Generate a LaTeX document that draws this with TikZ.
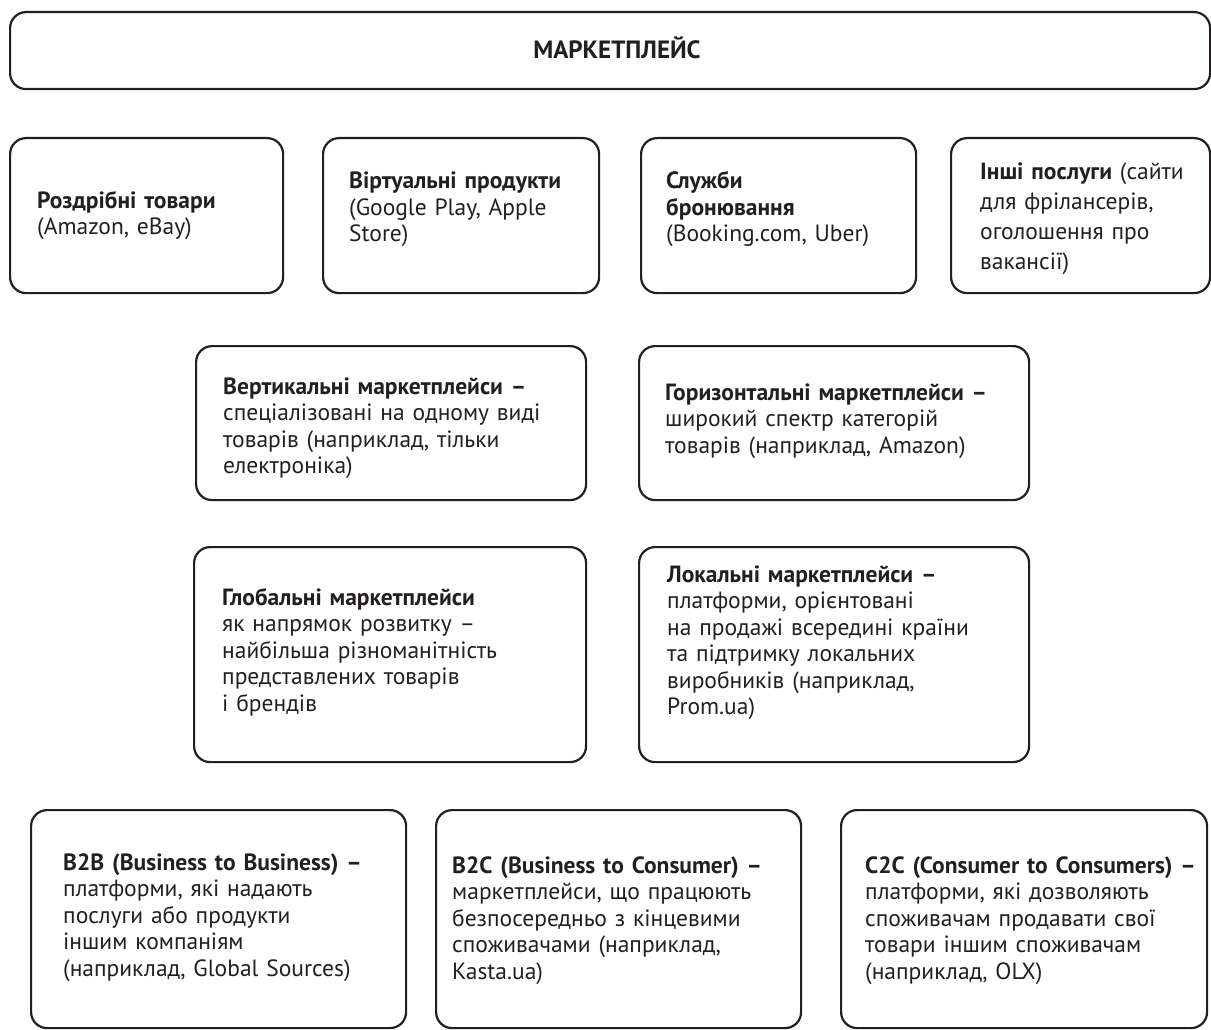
\documentclass[tikz,border=0pt]{standalone}
\usepackage{fontspec}
\setmainfont{PT Sans}
\definecolor{ink}{HTML}{231F20}
\begin{document}
\begin{tikzpicture}[x=1pt,y=-1pt,
  box/.style={draw=ink, line width=2.2pt, rounded corners=16pt, inner sep=0pt, anchor=north west},
  txt/.style={text=ink, anchor=base west, align=left, text width=420pt, inner sep=0pt, font=\fontsize{23.5}{26.5}\selectfont},
  ttl/.style={text=ink, inner sep=0pt, font=\bfseries\fontsize{25}{28}\selectfont}]
\useasboundingbox (0,0) rectangle (1211,1030);
% boxes
\node[box, minimum width=1200pt, minimum height=77pt] (top) at (9,11) {};
\node[box, minimum width=273pt, minimum height=155pt] (b1a) at (9,137) {};
\node[box, minimum width=276pt, minimum height=155pt] (b1b) at (322,137) {};
\node[box, minimum width=275pt, minimum height=155pt] (b1c) at (640,137) {};
\node[box, minimum width=259pt, minimum height=155pt] (b1d) at (950,137) {};
\node[box, minimum width=390pt, minimum height=154pt] (b2a) at (195,345) {};
\node[box, minimum width=390pt, minimum height=154pt] (b2b) at (638,345) {};
\node[box, minimum width=392pt, minimum height=215pt] (b3a) at (193,546) {};
\node[box, minimum width=390pt, minimum height=215pt] (b3b) at (638,546) {};
\node[box, minimum width=375pt, minimum height=218pt] (b4a) at (30,809) {};
\node[box, minimum width=365pt, minimum height=218pt] (b4b) at (435,809) {};
\node[box, minimum width=366pt, minimum height=218pt] (b4c) at (840,809) {};
% texts
\node[ttl] (title) at (617,48) {МАРКЕТПЛЕЙС};
\node[txt] (t1a) at (37,208) {\textbf{Роздрібні товари}\\(Amazon, eBay)};
\node[txt] (t1b) at (349,189) {\textbf{Віртуальні продукти}\\(Google Play, Apple\\Store)};
\node[txt] (t1c) at (666,189) {\textbf{Служби}\\\textbf{бронювання}\\(Booking.com, Uber)};
\node[txt, font=\fontsize{23.5}{30}\selectfont] (t1d) at (980,179) {\textbf{Інші послуги} (сайти\\для фрілансерів,\\оголошення про\\вакансії)};
\node[txt] (t2a) at (223,394) {\textbf{Вертикальні маркетплейси –}\\спеціалізовані на одному виді\\товарів (наприклад, тільки\\електроніка)};
\node[txt] (t2b) at (665,400) {\textbf{Горизонтальні маркетплейси –}\\широкий спектр категорій\\товарів (наприклад, Amazon)};
\node[txt] (t3a) at (222,605) {\textbf{Глобальні маркетплейси}\\як напрямок розвитку –\\найбільша різноманітність\\представлених товарів\\і брендів};
\node[txt] (t3b) at (667,582) {\textbf{Локальні маркетплейси –}\\платформи, орієнтовані\\на продажі всередині країни\\та підтримку локальних\\виробників (наприклад,\\Prom.ua)};
\node[txt] (t4a) at (63,870) {\textbf{B2B (Business to Business) –}\\платформи, які надають\\послуги або продукти\\іншим компаніям\\(наприклад, Global Sources)};
\node[txt] (t4b) at (452,873) {\textbf{B2C (Business to Consumer) –}\\маркетплейси, що працюють\\безпосередньо з кінцевими\\споживачами (наприклад,\\Kasta.ua)};
\node[txt] (t4c) at (865,873) {\textbf{C2C (Consumer to Consumers) –}\\платформи, які дозволяють\\споживачам продавати свої\\товари іншим споживачам\\(наприклад, OLX)};
\end{tikzpicture}
\end{document}
